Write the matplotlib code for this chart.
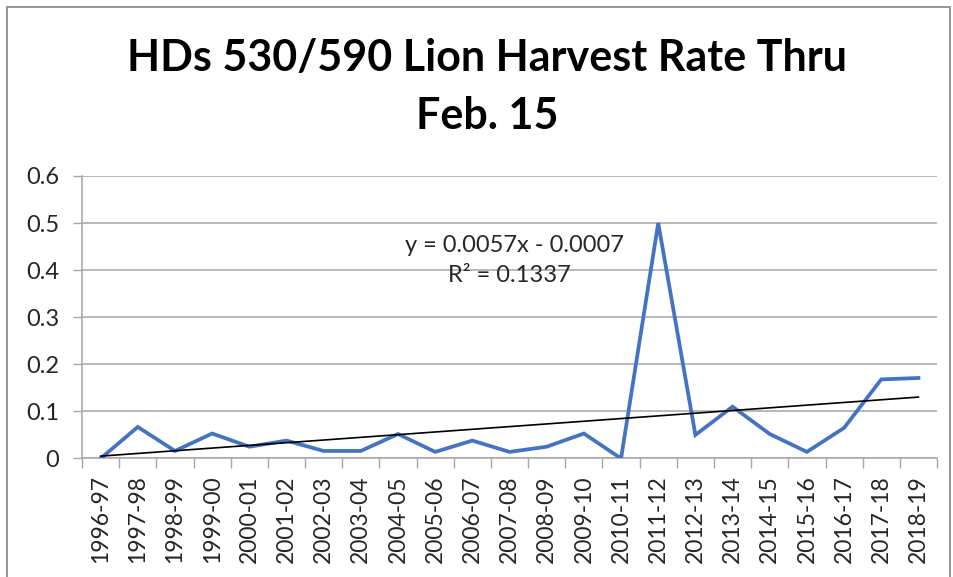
import matplotlib.pyplot as plt
from matplotlib.patches import Rectangle
import numpy as np

seasons = ['1996-97', '1997-98', '1998-99', '1999-00', '2000-01', '2001-02',
           '2002-03', '2003-04', '2004-05', '2005-06', '2006-07', '2007-08',
           '2008-09', '2009-10', '2010-11', '2011-12', '2012-13', '2013-14',
           '2014-15', '2015-16', '2016-17', '2017-18', '2018-19']
harvest_rate = [0.0, 0.067, 0.016, 0.053, 0.025, 0.038, 0.016, 0.016, 0.052,
                0.014, 0.038, 0.014, 0.025, 0.053, 0.0, 0.5, 0.05, 0.11,
                0.052, 0.014, 0.065, 0.168, 0.171]
trend_slope = 0.0057
trend_icept = -0.0007
r2 = 0.1337
yticks = [0, 0.1, 0.2, 0.3, 0.4, 0.5, 0.6]

plt.rcParams['font.family'] = ['Lato', 'DejaVu Sans']

fig = plt.figure(figsize=(9.54, 5.77), dpi=100)
ax = fig.add_axes([0.0860, 0.2054, 0.8962, 0.4896])

# frame round the whole chart
fig.patches.append(Rectangle((7/954, -0.01), 943/954, 1.01 - 7/577,
                             transform=fig.transFigure, fill=False,
                             edgecolor='#8c8c8c', linewidth=1.3))

x = np.arange(len(seasons))
ax.plot(x, harvest_rate, color='#4472C4', linewidth=2.7, solid_joinstyle='miter', zorder=3)

# linear trend, Excel numbers the categories from 1
k = x + 1
ax.plot(x, trend_slope * k + trend_icept, color='black', linewidth=1.2, zorder=4)

ax.set_xlim(-0.5, len(seasons) - 0.5)
ax.set_ylim(0, 0.6)
ax.set_yticks(yticks)
ax.set_yticklabels(['0'] + ['%.1f' % v for v in yticks[1:]])
ax.yaxis.grid(True, color='#a6a6a6', linewidth=1.1)
ax.set_axisbelow(True)

ax.set_xticks(x)
ax.set_xticklabels(seasons, rotation=90)
ax.set_xticks(np.arange(-0.5, len(seasons)), minor=True)
ax.tick_params(axis='x', which='major', length=0, pad=12, labelsize=16.5, colors='#262626')
ax.tick_params(axis='x', which='minor', length=7, width=1, color='#a6a6a6')
ax.tick_params(axis='y', length=6.5, width=1, color='#a6a6a6', pad=10,
               labelsize=17, labelcolor='#262626')

for s in ['top', 'right']:
    ax.spines[s].set_visible(False)
for s in ['left', 'bottom']:
    ax.spines[s].set_color('#a6a6a6')
    ax.spines[s].set_linewidth(1.1)

ax.text(11.12, 0.453, 'y = %.4fx - %.4f' % (trend_slope, -trend_icept),
        ha='center', va='center', fontsize=17, color='#262626')
ax.text(11.0, 0.388, 'R\u00b2 = %.4f' % r2, ha='center', va='center',
        fontsize=17, color='#262626')

fig.text(487/954, 1 - 58/577, 'HDs 530/590 Lion Harvest Rate Thru',
         ha='center', va='center', fontsize=31, fontweight='bold')
fig.text(487/954, 1 - 116/577, 'Feb. 15', ha='center', va='center',
         fontsize=31, fontweight='bold')

fig.savefig('out.png', dpi=100)
